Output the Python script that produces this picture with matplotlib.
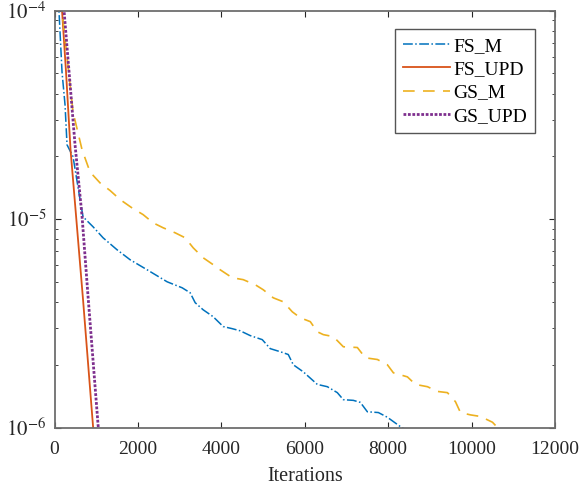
import matplotlib
matplotlib.use("Agg")
import matplotlib.pyplot as plt
from matplotlib.ticker import LogLocator, NullFormatter, FixedLocator

plt.rcParams['font.family'] = ['Liberation Serif', 'DejaVu Serif']
plt.rcParams['mathtext.fontset'] = 'stix'

# ---- data ----
fs_m_iter = [50, 108, 180, 252, 300, 444, 612, 684, 924, 1164, 1500, 1812, 2220, 2700, 3060,
             3252, 3372, 3564, 3804, 4044, 4260, 4452, 4692, 4980, 5172, 5412, 5604, 5724,
             5964, 6300, 6540, 6780, 6924, 7164, 7332, 7500, 7764, 7980, 8292, 8400]
fs_m_val = [1.3e-4, 9.84e-5, 5.07e-5, 3.53e-5, 2.27e-5, 1.99e-5, 1.24e-5, 1.025e-5, 9.18e-6,
            8.13e-6, 7.12e-6, 6.38e-6, 5.71e-6, 5.00e-6, 4.68e-6, 4.43e-6, 3.97e-6, 3.67e-6,
            3.40e-6, 3.05e-6, 2.98e-6, 2.91e-6, 2.76e-6, 2.64e-6, 2.39e-6, 2.31e-6, 2.24e-6,
            2.00e-6, 1.85e-6, 1.61e-6, 1.57e-6, 1.47e-6, 1.36e-6, 1.35e-6, 1.32e-6, 1.19e-6,
            1.18e-6, 1.12e-6, 1.01e-6, 9.8e-7]

fs_upd_iter = [120, 180, 276, 384, 684, 924, 940]
fs_upd_val = [1.3e-4, 1.0e-4, 5.07e-5, 2.15e-5, 4.10e-6, 1.01e-6, 9.5e-7]

gs_m_iter = [120, 180, 444, 660, 852, 1092, 1332, 1572, 1860, 2124, 2364, 2604, 2892, 3132,
             3324, 3564, 3804, 3972, 4260, 4524, 4812, 5004, 5244, 5484, 5700, 5892, 6132,
             6300, 6444, 6684, 6924, 7260, 7452, 7740, 7980, 8124, 8460, 8652, 8940, 9180,
             9420, 9612, 9732, 9972, 10212, 10500, 10620, 10700]
gs_m_val = [1.3e-4, 9.95e-5, 3.26e-5, 2.15e-5, 1.68e-5, 1.49e-5, 1.37e-5, 1.24e-5, 1.13e-5,
            1.05e-5, 9.59e-6, 9.08e-6, 8.59e-6, 8.13e-6, 7.28e-6, 6.52e-6, 6.04e-6, 5.71e-6,
            5.23e-6, 5.12e-6, 4.84e-6, 4.58e-6, 4.19e-6, 4.01e-6, 3.59e-6, 3.36e-6, 3.22e-6,
            2.88e-6, 2.79e-6, 2.73e-6, 2.44e-6, 2.42e-6, 2.16e-6, 2.12e-6, 2.00e-6, 1.83e-6,
            1.75e-6, 1.61e-6, 1.57e-6, 1.49e-6, 1.47e-6, 1.33e-6, 1.18e-6, 1.15e-6, 1.13e-6,
            1.06e-6, 1.0e-6, 9.7e-7]

gs_upd_iter = [190, 228, 492, 660, 804, 1044, 1060]
gs_upd_val = [1.25e-4, 1.0e-4, 2.27e-5, 1.03e-5, 4.25e-6, 1.03e-6, 9.6e-7]

labels = ['FS_M', 'FS_UPD', 'GS_M', 'GS_UPD']
x_ticks = [0, 2000, 4000, 6000, 8000, 10000, 12000]
y_ticks = [1e-6, 1e-5, 1e-4]
y_tick_labels = [r'$10^{-6}$', r'$10^{-5}$', r'$10^{-4}$']

fig = plt.figure(figsize=(5.8, 4.86), dpi=100)
ax = fig.add_axes([0.094, 0.1203, 0.863, 0.858])

ax.plot(fs_m_iter, fs_m_val, color='#0072BD', linestyle='-.', linewidth=1.1, label=labels[0])
ax.plot(fs_upd_iter, fs_upd_val, color='#D95319', linestyle='-', linewidth=1.3, label=labels[1])
ax.plot(gs_m_iter, gs_m_val, color='#EDB120', linestyle=(0, (7, 5)), linewidth=1.2, label=labels[2])
ax.plot(gs_upd_iter, gs_upd_val, color='#7E2F8E', linestyle=(0, (1, 0.6)), linewidth=2.0, label=labels[3])

ax.set_yscale('log')
ax.set_xlim(0, 12000)
ax.set_ylim(1e-6, 1e-4)
ax.set_xticks(x_ticks)
ax.set_xticklabels([str(t) for t in x_ticks])
ax.yaxis.set_major_locator(FixedLocator(y_ticks))
ax.set_yticklabels(y_tick_labels)
ax.yaxis.set_minor_locator(LogLocator(base=10, subs=range(2, 10)))
ax.yaxis.set_minor_formatter(NullFormatter())

ax.tick_params(which='both', direction='in', top=True, right=True, colors='#262626')
ax.tick_params(axis='x', labelsize=14, pad=10)
ax.tick_params(axis='y', labelsize=15, pad=6)
ax.tick_params(which='major', length=4, width=0.8)
ax.tick_params(which='minor', length=2.5, width=0.6)
for s in ax.spines.values():
    s.set_color('#6e6e6e')
    s.set_linewidth(1.3)

ax.set_xlabel('Iterations', fontsize=14.5, color='#262626', labelpad=6)

leg = ax.legend(loc='upper right', bbox_to_anchor=(0.96, 0.955), fontsize=14,
                handlelength=2.4, handletextpad=0.2, borderpad=0.4, labelspacing=0.3,
                borderaxespad=0, fancybox=False, framealpha=1, edgecolor='#555555')
leg.get_frame().set_linewidth(1.0)

fig.savefig('out.png', dpi=100)
